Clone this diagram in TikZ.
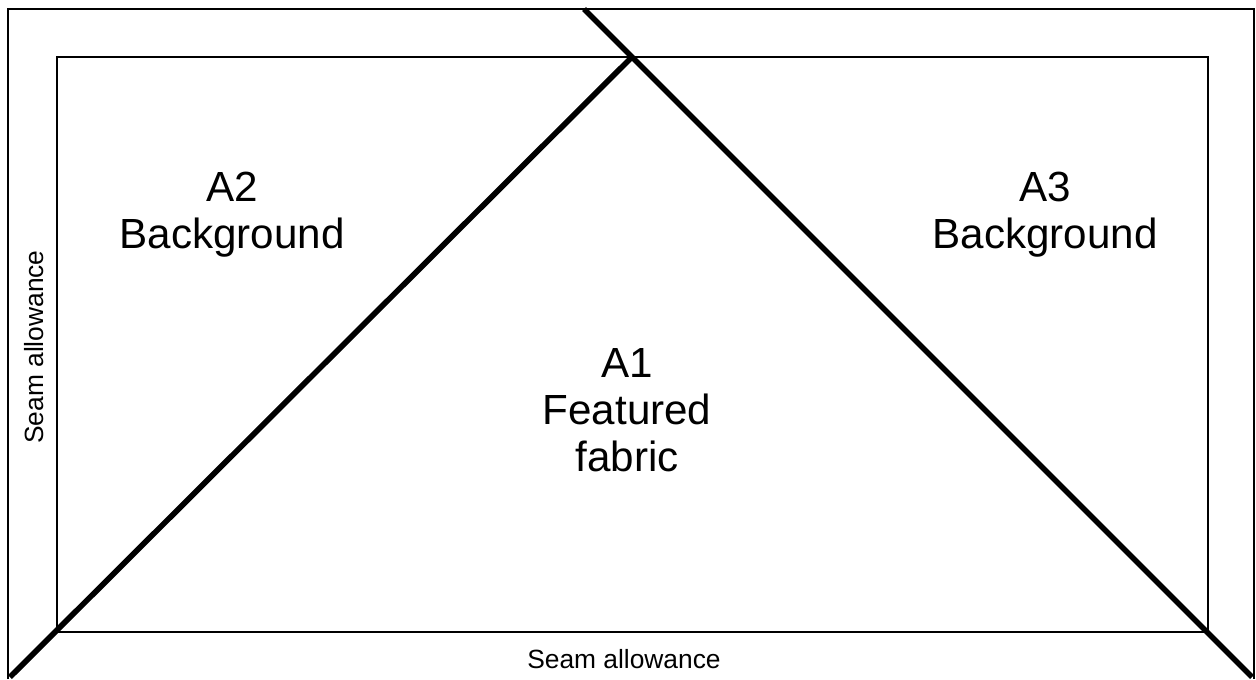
\documentclass[tikz,border=0pt]{standalone}
\usepackage{fontspec}
\setmainfont{Liberation Sans}
\usetikzlibrary{positioning}

\begin{document}
\begin{tikzpicture}[x=0.02cm,y=-0.02cm,frame/.style={line width=1.1pt},cut/.style={line width=3.2pt},label/.style={align=center,font=\fontsize{24}{26.8}\selectfont},seam/.style={font=\fontsize{15}{18}\selectfont}]
\useasboundingbox (0,0) rectangle (1256,679);

% outer frame, open at the bottom
\coordinate (ol) at (8,679);
\coordinate (otl) at (8,9);
\coordinate (otr) at (1254,9);
\coordinate (or) at (1254,679);
\draw [frame] (ol) -- (otl) -- (otr) -- (or);

% finished block
\coordinate (itl) at (57,57);
\coordinate (ibr) at (1208,632);
\draw [frame] (itl) rectangle (ibr);

% cutting lines
\coordinate (apex) at (632,57);
\coordinate (lo) at (10,677);
\coordinate (hi) at (584,9);
\coordinate (ro) at (1252,677);
\draw [cut] (lo) -- (apex);
\draw [cut] (hi) -- (ro);

\node(a2)[label] at (232,215) {A2\\Background};
\node(a3)[label] at (1045,215) {A3\\Background};
\node(a1)[label] at (627,410) {A1\\Featured\\fabric};
\node(sb)[seam] at (624,659) {Seam allowance};
\node(sl)[seam,rotate=90] at (34,347) {Seam allowance};
\end{tikzpicture}
\end{document}
